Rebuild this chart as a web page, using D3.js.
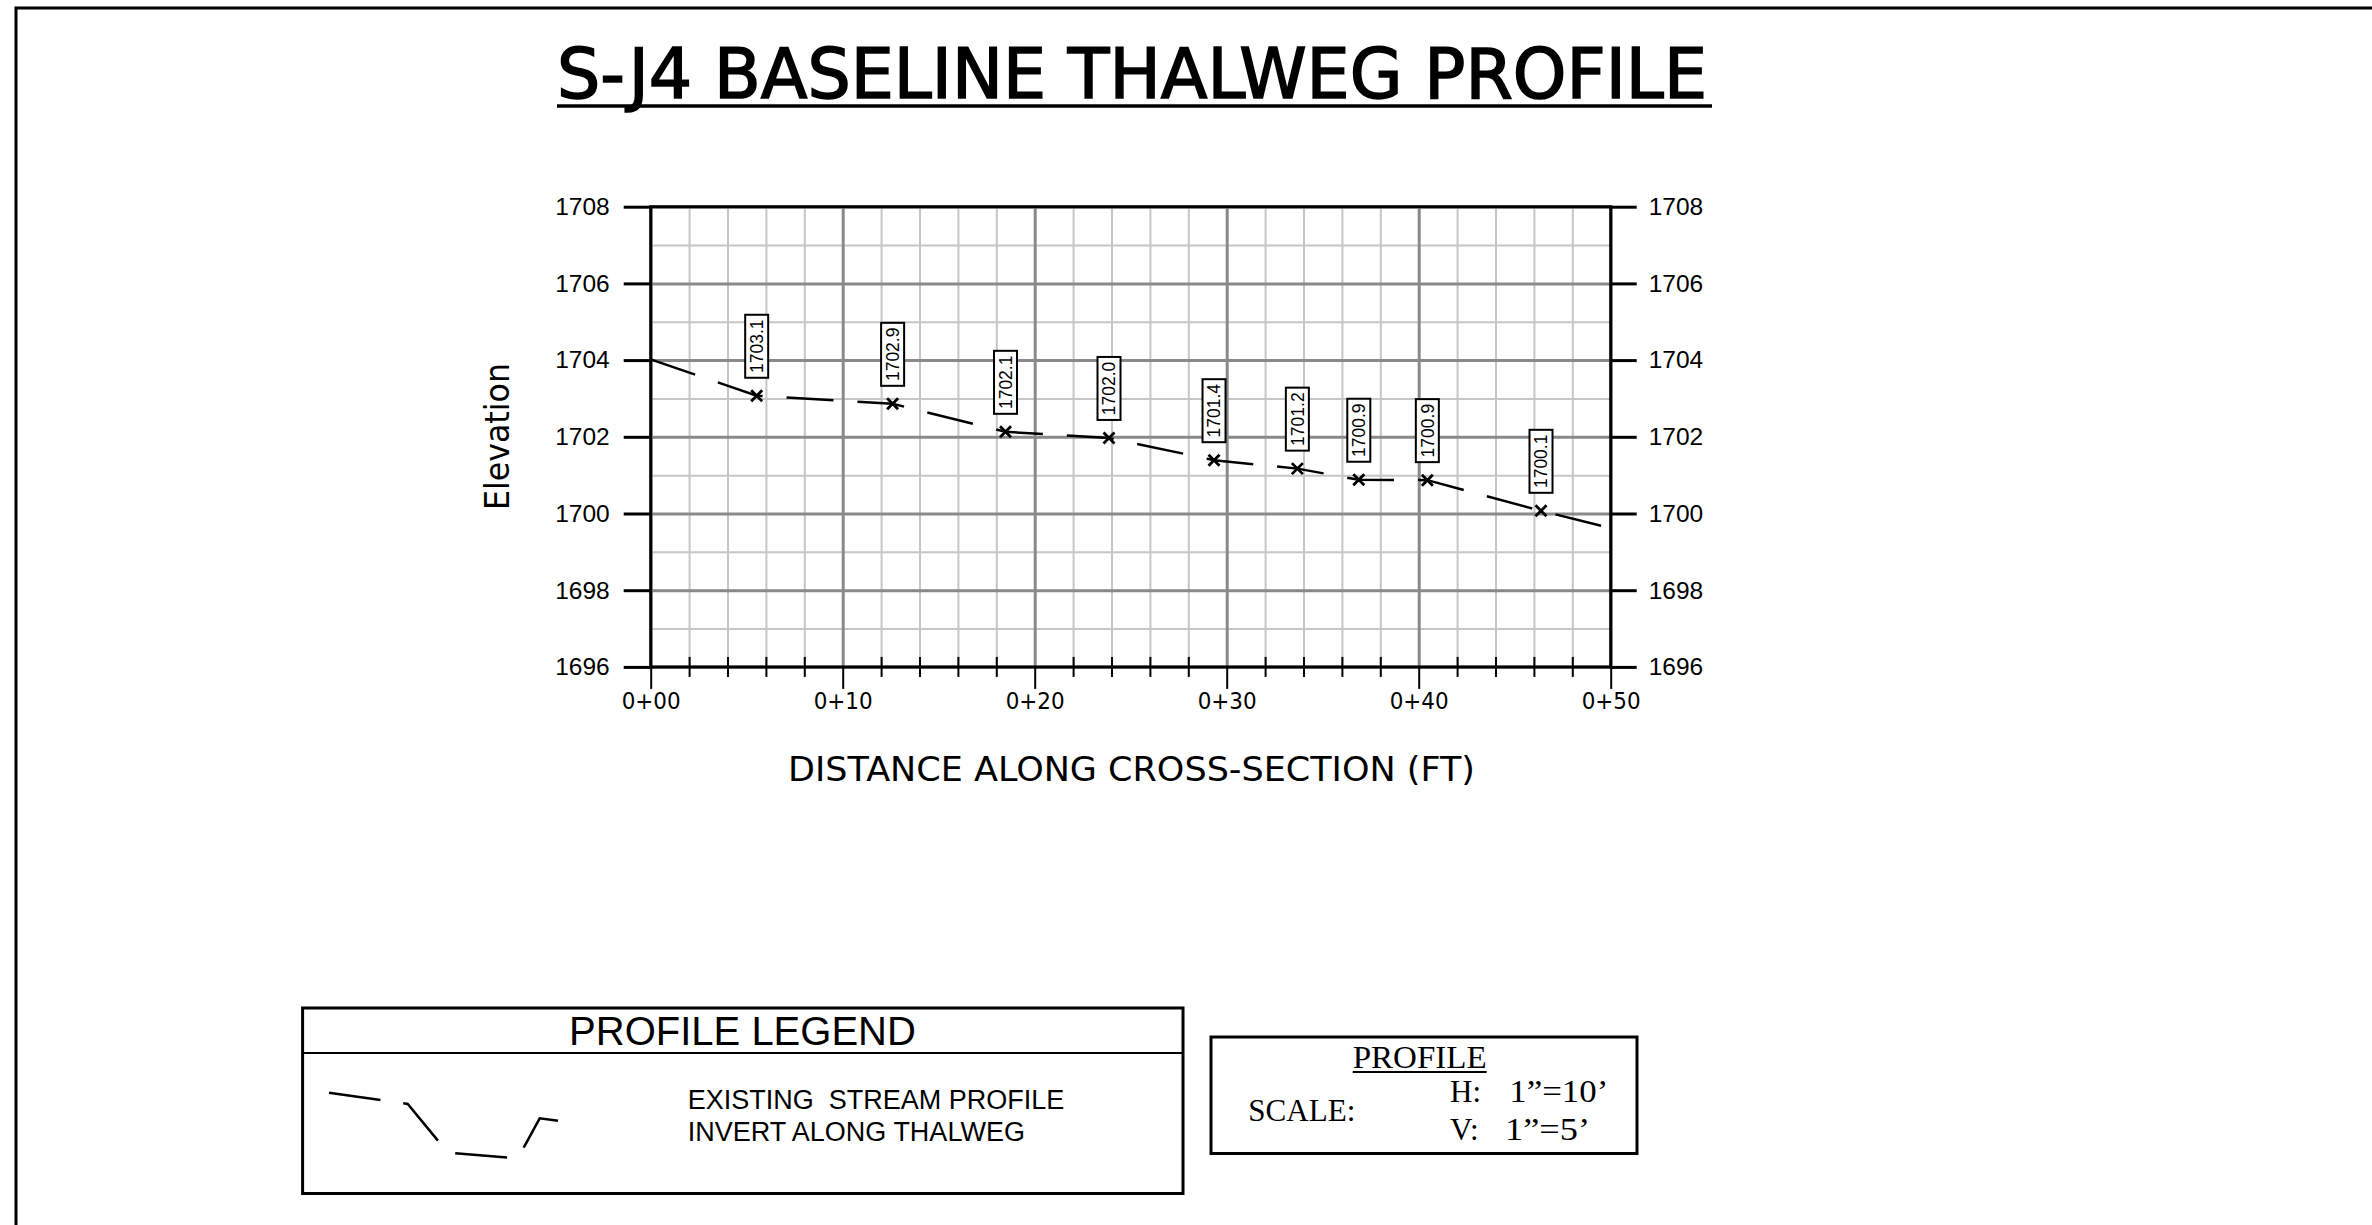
<!DOCTYPE html>
<html>
<head>
<meta charset="utf-8">
<script src="https://cdn.jsdelivr.net/npm/d3@7"></script>
<style>
  html, body { margin: 0; padding: 0; background: #fff; }
  svg { display: block; }
  .pre { white-space: pre; }
</style>
</head>
<body>
<svg id="sheet" width="2372" height="1225"></svg>
<script>

//  1] Data ---------------------------------------------//

// station along the cross-section (ft) and thalweg invert elevation (ft)
const stations   = [0, 5.52, 12.60, 18.48, 23.87, 29.34, 33.68, 36.88, 40.45, 46.37, 50]
const elevations = [1704.02, 1703.07, 1702.86, 1702.13, 1701.97, 1701.39, 1701.17, 1700.88, 1700.87, 1700.07, 1699.62]
// shot labels (null = line end, no shot)
const shotLabels = [null, "1703.1", "1702.9", "1702.1", "1702.0", "1701.4", "1701.2", "1700.9", "1700.9", "1700.1", null]

const elevTicks = [1696, 1698, 1700, 1702, 1704, 1706, 1708]
const stationTicks = [0, 10, 20, 30, 40, 50]
const stationTickLabels = ["0+00", "0+10", "0+20", "0+30", "0+40", "0+50"]

const minorStations = d3.range(0, 51, 2)
const minorElevs = d3.range(1696, 1709, 1)

const profile = stations.map((s, i) => ({ s: s, e: elevations[i], label: shotLabels[i] }))

//  2] Scales -------------------------------------------//

const x = d3.scaleLinear().domain([0, 50]).range([650.7, 1610.7])
const y = d3.scaleLinear().domain([1696, 1708]).range([666.9, 206.7])
const plotH = y(1696) - y(1708)

const svg = d3.select('#sheet')

// sheet border (left + top)
svg.append('path')
   .attr('d', 'M16,1225V8H2372')
   .attr('fill', 'none')
   .attr('stroke', '#000')
   .attr('stroke-width', 3)

//  3] Title --------------------------------------------//

svg.append('text')
   .attr('x', 557).attr('y', 98.3)
   .attr('font-family', '"DejaVu Sans", sans-serif')
   .attr('font-size', 69)
   .attr('stroke', '#000')
   .attr('stroke-width', 1.6)
   .attr('textLength', 1150)
   .attr('lengthAdjust', 'spacingAndGlyphs')
   .text('S-J4 BASELINE THALWEG PROFILE')

svg.append('line')
   .attr('x1', 557).attr('x2', 1712).attr('y1', 106).attr('y2', 106)
   .attr('stroke', '#000').attr('stroke-width', 3.5)

//  4] Grid ---------------------------------------------//

const styleLines = (g, color, w) => {
  g.select('.domain').remove()
  g.selectAll('line').attr('stroke', color).attr('stroke-width', w)
}

// minor verticals every 2 ft
svg.append('g')
   .attr('transform', `translate(0,${y(1696)})`)
   .call(d3.axisBottom(x).tickValues(minorStations).tickSize(-plotH).tickFormat(''))
   .call(g => styleLines(g, '#c6c6c6', 2))

// minor horizontals every 1 ft
svg.append('g')
   .attr('transform', `translate(${x(0)},0)`)
   .call(d3.axisLeft(y).tickValues(minorElevs).tickSize(-(x(50) - x(0))).tickFormat(''))
   .call(g => styleLines(g, '#c6c6c6', 2))

// major verticals every 10 ft
svg.append('g')
   .attr('transform', `translate(0,${y(1696)})`)
   .call(d3.axisBottom(x).tickValues(stationTicks).tickSize(-plotH).tickFormat(''))
   .call(g => styleLines(g, '#8a8a8a', 3))

// major horizontals every 2 ft
svg.append('g')
   .attr('transform', `translate(${x(0)},0)`)
   .call(d3.axisLeft(y).tickValues(elevTicks).tickSize(-(x(50) - x(0))).tickFormat(''))
   .call(g => styleLines(g, '#8a8a8a', 3))

// plot frame
svg.append('rect')
   .attr('x', x(0)).attr('y', y(1708))
   .attr('width', x(50) - x(0)).attr('height', plotH)
   .attr('fill', 'none').attr('stroke', '#000').attr('stroke-width', 3)

//  5] Axes ---------------------------------------------//

const labelFont = (g, family, size) => {
  g.attr('font-family', family).attr('font-size', size)
  g.select('.domain').remove()
  g.selectAll('line').attr('stroke', '#000').attr('stroke-width', 3)
  g.selectAll('text').attr('fill', '#000')
}

svg.append('g')
   .attr('transform', `translate(${x(0)},0)`)
   .call(d3.axisLeft(y).tickValues(elevTicks).tickSize(27).tickPadding(14).tickFormat(d3.format('d')))
   .call(g => labelFont(g, '"Liberation Sans", Arial, sans-serif', 24.5))

svg.append('g')
   .attr('transform', `translate(${x(50)},0)`)
   .call(d3.axisRight(y).tickValues(elevTicks).tickSize(26).tickPadding(12).tickFormat(d3.format('d')))
   .call(g => labelFont(g, '"Liberation Sans", Arial, sans-serif', 24.5))

// minor station ticks straddle the bottom edge
svg.append('g')
   .attr('transform', `translate(0,${y(1696) - 10})`)
   .call(d3.axisBottom(x).tickValues(minorStations.filter(d => d % 10 !== 0)).tickSize(20).tickFormat(''))
   .call(g => { g.select('.domain').remove(); g.selectAll('line').attr('stroke', '#000').attr('stroke-width', 2) })

svg.append('g')
   .attr('transform', `translate(0,${y(1696)})`)
   .call(d3.axisBottom(x).tickValues(stationTicks).tickSize(22).tickPadding(3)
           .tickFormat((d, i) => stationTickLabels[i]))
   .call(g => labelFont(g, '"DejaVu Sans", sans-serif', 23.5))
   .call(g => g.selectAll('line').attr('stroke-width', 2))
   .call(g => g.selectAll('text').attr('textLength', 59).attr('lengthAdjust', 'spacingAndGlyphs'))

// axis titles
svg.append('text')
   .attr('transform', 'translate(509,436.5) rotate(-90)')
   .attr('text-anchor', 'middle')
   .attr('font-family', '"DejaVu Sans", sans-serif')
   .attr('font-size', 33)
   .attr('textLength', 147)
   .attr('lengthAdjust', 'spacingAndGlyphs')
   .text('Elevation')

svg.append('text')
   .attr('x', 788).attr('y', 781)
   .attr('font-family', '"DejaVu Sans", sans-serif')
   .attr('font-size', 33)
   .attr('textLength', 687)
   .attr('lengthAdjust', 'spacingAndGlyphs')
   .text('DISTANCE ALONG CROSS-SECTION (FT)')

//  6] Thalweg line, shots and labels -------------------//

const line = d3.line().x(d => x(d.s)).y(d => y(d.e))

svg.append('path')
   .attr('d', line(profile))
   .attr('fill', 'none')
   .attr('stroke', '#000')
   .attr('stroke-width', 2.5)
   .attr('stroke-dasharray', '47,24')

const shots = svg.append('g')
   .selectAll('g')
   .data(profile.filter(d => d.label))
   .join('g')
   .attr('transform', d => `translate(${x(d.s)},${y(d.e)})`)

shots.append('path')
     .attr('d', 'M-5.5,-5.5L5.5,5.5M-5.5,5.5L5.5,-5.5')
     .attr('stroke', '#000')
     .attr('stroke-width', 2.8)

shots.append('rect')
     .attr('x', -11.5).attr('y', -81)
     .attr('width', 23).attr('height', 63)
     .attr('fill', '#fff').attr('stroke', '#000').attr('stroke-width', 2)

shots.append('text')
     .attr('transform', 'translate(0,-49.5) rotate(-90)')
     .attr('text-anchor', 'middle')
     .attr('dy', '0.36em')
     .attr('font-family', '"Liberation Sans", Arial, sans-serif')
     .attr('font-size', 17.5)
     .text(d => d.label)

//  7] Profile legend -----------------------------------//

const legend = svg.append('g')

legend.append('rect')
      .attr('x', 302.6).attr('y', 1008)
      .attr('width', 880.4).attr('height', 185.5)
      .attr('fill', 'none').attr('stroke', '#000').attr('stroke-width', 3)

legend.append('line')
      .attr('x1', 302.6).attr('x2', 1183).attr('y1', 1053).attr('y2', 1053)
      .attr('stroke', '#000').attr('stroke-width', 2)

legend.append('text')
      .attr('x', 742.5).attr('y', 1045)
      .attr('text-anchor', 'middle')
      .attr('font-family', '"Liberation Sans", Arial, sans-serif')
      .attr('font-size', 40)
      .text('PROFILE LEGEND')

// sample stream line symbol
const symbolPts = [[329, 1092.7], [407.7, 1104], [447.9, 1152.7], [517.9, 1158.3], [539.7, 1118.3], [558, 1120.7]]
legend.append('path')
      .attr('d', d3.line()(symbolPts))
      .attr('fill', 'none')
      .attr('stroke', '#000')
      .attr('stroke-width', 2.5)
      .attr('stroke-dasharray', '52,23')

legend.append('text')
      .attr('class', 'pre')
      .attr('x', 687.8).attr('y', 1108.6)
      .attr('font-family', '"Liberation Sans", Arial, sans-serif')
      .attr('font-size', 27)
      .text('EXISTING  STREAM PROFILE')

legend.append('text')
      .attr('x', 687.8).attr('y', 1140.5)
      .attr('font-family', '"Liberation Sans", Arial, sans-serif')
      .attr('font-size', 27)
      .text('INVERT ALONG THALWEG')

//  8] Scale block --------------------------------------//

const scaleBox = svg.append('g')
   .attr('font-family', '"Liberation Serif", "Times New Roman", serif')
   .attr('font-size', 31)

scaleBox.append('rect')
        .attr('x', 1211).attr('y', 1037)
        .attr('width', 426).attr('height', 116.5)
        .attr('fill', 'none').attr('stroke', '#000').attr('stroke-width', 3)

scaleBox.append('text')
        .attr('x', 1352.7).attr('y', 1067.7)
        .attr('textLength', 134).attr('lengthAdjust', 'spacingAndGlyphs')
        .text('PROFILE')

scaleBox.append('line')
        .attr('x1', 1352.7).attr('x2', 1486.7).attr('y1', 1072).attr('y2', 1072)
        .attr('stroke', '#000').attr('stroke-width', 2)

scaleBox.append('text')
        .attr('x', 1248.3).attr('y', 1121)
        .attr('textLength', 107).attr('lengthAdjust', 'spacingAndGlyphs')
        .text('SCALE:')

scaleBox.append('text').attr('x', 1450).attr('y', 1101.7).text('H:')
scaleBox.append('text')
        .attr('x', 1509.3).attr('y', 1101.7)
        .attr('textLength', 99).attr('lengthAdjust', 'spacingAndGlyphs')
        .text('1\u201D=10\u2019')

scaleBox.append('text').attr('x', 1450).attr('y', 1140).text('V:')
scaleBox.append('text')
        .attr('x', 1505).attr('y', 1140)
        .attr('textLength', 85).attr('lengthAdjust', 'spacingAndGlyphs')
        .text('1\u201D=5\u2019')

</script>
</body>
</html>
